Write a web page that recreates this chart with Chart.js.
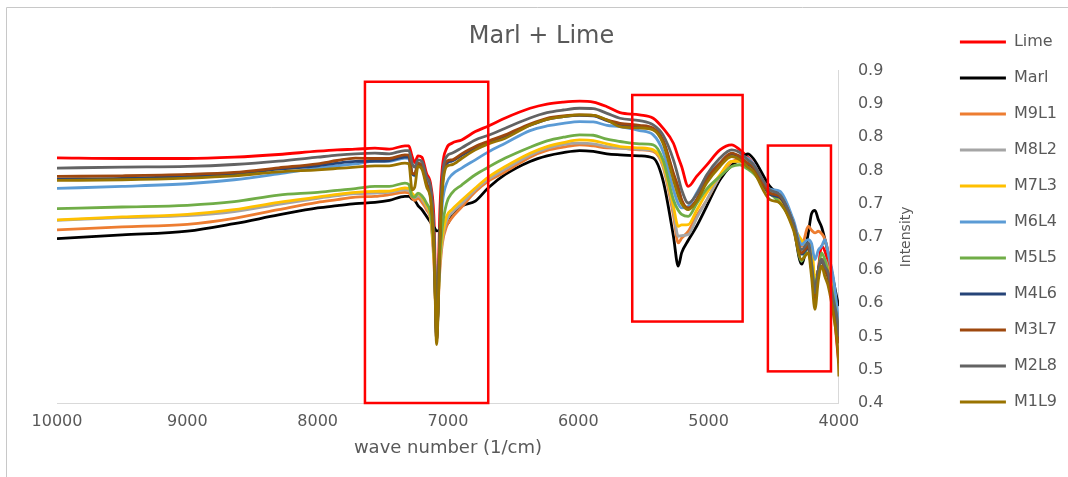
<!DOCTYPE html>
<html>
<head>
<meta charset="utf-8">
<title>Marl + Lime</title>
<script src="https://cdn.jsdelivr.net/npm/chart.js@4/dist/chart.umd.min.js"></script>
<style>
    html, body { margin: 0; padding: 0; background: #ffffff; }
    #wrap { position: relative; width: 1068px; height: 477px; }
</style>
</head>
<body>
<div id="wrap"><canvas id="spectraChart"></canvas></div>
<script>
// wave numbers (1/cm) shared by every series
const wavenumbers = [10000, 9500, 9000, 8640, 8300, 8000, 7850, 7710, 7560, 7450,
    7330, 7300, 7275, 7255, 7230, 7200, 7165, 7130, 7105, 7087,
    7062, 7043, 7010, 6970, 6895, 6790, 6690, 6560, 6370, 6240,
    6115, 5990, 5885, 5780, 5680, 5530, 5425, 5350, 5270, 5233,
    5207, 5156, 5092, 5015, 4913, 4823, 4760, 4700, 4657, 4530,
    4453, 4350, 4286, 4235, 4210, 4184, 4158, 4133, 4107, 4082,
    4044, 4006, 4000];

const lime = [0.769, 0.768, 0.768, 0.770, 0.774, 0.779, 0.781, 0.782, 0.7835, 0.782,
    0.787, 0.787, 0.771, 0.762, 0.772, 0.770, 0.746, 0.726, 0.666, 0.506,
    0.690, 0.755, 0.7835, 0.791, 0.796, 0.8085, 0.817, 0.829, 0.8436, 0.850,
    0.853, 0.8545, 0.853, 0.846, 0.837, 0.8336, 0.8286, 0.8136, 0.791, 0.770,
    0.756, 0.726, 0.741, 0.758, 0.781, 0.7886, 0.781, 0.770, 0.760, 0.7236,
    0.711, 0.671, 0.638, 0.636, 0.610, 0.555, 0.600, 0.636, 0.628, 0.610,
    0.550, 0.470, 0.460];

const marl = [0.6475, 0.653, 0.6586, 0.670, 0.683, 0.6936, 0.697, 0.700, 0.702, 0.705,
    0.711, 0.711, 0.707, 0.705, 0.697, 0.691, 0.681, 0.671, 0.664, 0.659,
    0.661, 0.668, 0.6685, 0.681, 0.696, 0.704, 0.724, 0.744, 0.7636, 0.772,
    0.777, 0.780, 0.7786, 0.775, 0.7735, 0.772, 0.7686, 0.735, 0.651, 0.606,
    0.626, 0.645, 0.666, 0.696, 0.736, 0.758, 0.766, 0.775, 0.768, 0.726,
    0.711, 0.666, 0.609, 0.656, 0.685, 0.690, 0.676, 0.665, 0.646, 0.625,
    0.586, 0.550, 0.546];

const m9l1 = [0.6606, 0.665, 0.669, 0.678, 0.691, 0.702, 0.706, 0.710, 0.711, 0.7135,
    0.717, 0.716, 0.7086, 0.705, 0.708, 0.702, 0.691, 0.671, 0.600, 0.515,
    0.600, 0.640, 0.666, 0.6786, 0.695, 0.718, 0.734, 0.748, 0.770, 0.780,
    0.785, 0.7886, 0.787, 0.784, 0.7836, 0.781, 0.7786, 0.756, 0.683, 0.641,
    0.648, 0.6585, 0.682, 0.705, 0.741, 0.763, 0.766, 0.758, 0.751, 0.721,
    0.706, 0.671, 0.636, 0.666, 0.660, 0.656, 0.6585, 0.655, 0.646, 0.625,
    0.576, 0.521, 0.505];

const m8l2 = [0.675, 0.679, 0.682, 0.688, 0.699, 0.708, 0.712, 0.715, 0.716, 0.717,
    0.721, 0.720, 0.712, 0.709, 0.712, 0.707, 0.695, 0.674, 0.610, 0.512,
    0.610, 0.645, 0.675, 0.686, 0.700, 0.721, 0.737, 0.752, 0.773, 0.783,
    0.789, 0.791, 0.790, 0.786, 0.7836, 0.782, 0.780, 0.758, 0.690, 0.651,
    0.652, 0.6535, 0.678, 0.705, 0.741, 0.7636, 0.7636, 0.760, 0.752, 0.720,
    0.706, 0.666, 0.640, 0.631, 0.610, 0.586, 0.600, 0.615, 0.616, 0.600,
    0.560, 0.510, 0.490];

const m7l3 = [0.6756, 0.680, 0.684, 0.691, 0.702, 0.710, 0.714, 0.717, 0.7186, 0.719,
    0.7236, 0.723, 0.716, 0.712, 0.715, 0.710, 0.698, 0.676, 0.610, 0.510,
    0.615, 0.650, 0.681, 0.691, 0.705, 0.7236, 0.740, 0.756, 0.776, 0.786,
    0.792, 0.796, 0.795, 0.790, 0.786, 0.784, 0.781, 0.761, 0.696, 0.666,
    0.668, 0.6685, 0.690, 0.716, 0.7435, 0.7636, 0.7636, 0.761, 0.752, 0.715,
    0.706, 0.666, 0.645, 0.636, 0.6385, 0.586, 0.600, 0.616, 0.612, 0.600,
    0.561, 0.511, 0.495];

const m6l4 = [0.723, 0.726, 0.730, 0.736, 0.745, 0.7536, 0.757, 0.760, 0.7636, 0.7636,
    0.7686, 0.768, 0.746, 0.742, 0.761, 0.758, 0.736, 0.716, 0.640, 0.500,
    0.640, 0.700, 0.731, 0.7435, 0.7536, 0.766, 0.778, 0.791, 0.810, 0.817,
    0.821, 0.8236, 0.823, 0.818, 0.816, 0.810, 0.8036, 0.7786, 0.721, 0.700,
    0.6936, 0.696, 0.716, 0.741, 0.761, 0.7735, 0.772, 0.7686, 0.760, 0.722,
    0.7186, 0.676, 0.6385, 0.646, 0.640, 0.616, 0.630, 0.636, 0.646, 0.625,
    0.590, 0.526, 0.510];

const m5l5 = [0.6925, 0.695, 0.6976, 0.703, 0.713, 0.717, 0.720, 0.7226, 0.726, 0.726,
    0.731, 0.729, 0.711, 0.710, 0.716, 0.712, 0.701, 0.681, 0.620, 0.510,
    0.620, 0.665, 0.701, 0.716, 0.728, 0.7435, 0.755, 0.7686, 0.785, 0.7946,
    0.800, 0.8036, 0.803, 0.797, 0.7936, 0.790, 0.7886, 0.766, 0.706, 0.690,
    0.684, 0.681, 0.700, 0.722, 0.741, 0.756, 0.7586, 0.752, 0.746, 0.716,
    0.701, 0.666, 0.6135, 0.636, 0.610, 0.576, 0.600, 0.626, 0.615, 0.595,
    0.561, 0.511, 0.495];

const m4l6 = [0.737, 0.738, 0.741, 0.745, 0.752, 0.757, 0.761, 0.7636, 0.764, 0.765,
    0.770, 0.770, 0.745, 0.743, 0.759, 0.756, 0.730, 0.705, 0.630, 0.495,
    0.650, 0.728, 0.760, 0.764, 0.773, 0.784, 0.792, 0.802, 0.818, 0.827,
    0.831, 0.833, 0.832, 0.825, 0.819, 0.816, 0.812, 0.794, 0.743, 0.722,
    0.704, 0.692, 0.705, 0.735, 0.760, 0.775, 0.770, 0.760, 0.754, 0.714,
    0.709, 0.668, 0.624, 0.634, 0.600, 0.560, 0.600, 0.614, 0.600, 0.588,
    0.548, 0.505, 0.490];

const m3l7 = [0.741, 0.742, 0.744, 0.747, 0.754, 0.760, 0.765, 0.7686, 0.768, 0.768,
    0.7735, 0.773, 0.746, 0.745, 0.761, 0.758, 0.731, 0.706, 0.630, 0.495,
    0.650, 0.730, 0.7636, 0.766, 0.775, 0.786, 0.794, 0.8036, 0.820, 0.8286,
    0.832, 0.8336, 0.833, 0.826, 0.821, 0.818, 0.8136, 0.796, 0.746, 0.725,
    0.706, 0.6936, 0.706, 0.737, 0.761, 0.776, 0.771, 0.761, 0.755, 0.716,
    0.711, 0.670, 0.626, 0.636, 0.600, 0.561, 0.600, 0.616, 0.600, 0.590,
    0.550, 0.506, 0.490];

const m2l8 = [0.7536, 0.755, 0.756, 0.759, 0.764, 0.770, 0.773, 0.775, 0.776, 0.775,
    0.780, 0.780, 0.761, 0.755, 0.766, 0.764, 0.741, 0.721, 0.640, 0.500,
    0.660, 0.740, 0.771, 0.776, 0.784, 0.796, 0.803, 0.8136, 0.829, 0.837,
    0.841, 0.8436, 0.843, 0.836, 0.8286, 0.825, 0.8186, 0.8036, 0.766, 0.740,
    0.721, 0.701, 0.714, 0.743, 0.7686, 0.781, 0.777, 0.766, 0.7586, 0.721,
    0.7135, 0.671, 0.631, 0.641, 0.610, 0.566, 0.600, 0.616, 0.605, 0.596,
    0.556, 0.516, 0.500];

const m1l9 = [0.735, 0.736, 0.7386, 0.742, 0.748, 0.751, 0.753, 0.755, 0.757, 0.757,
    0.761, 0.760, 0.721, 0.725, 0.756, 0.752, 0.726, 0.701, 0.620, 0.488,
    0.640, 0.720, 0.756, 0.7586, 0.768, 0.781, 0.790, 0.7986, 0.818, 0.827,
    0.831, 0.8336, 0.833, 0.826, 0.816, 0.814, 0.811, 0.791, 0.736, 0.712,
    0.700, 0.691, 0.7035, 0.731, 0.756, 0.771, 0.766, 0.755, 0.7486, 0.706,
    0.701, 0.661, 0.616, 0.626, 0.590, 0.541, 0.585, 0.606, 0.590, 0.576,
    0.535, 0.470, 0.440];

const seriesNames = ['Lime', 'Marl', 'M9L1', 'M8L2', 'M7L3', 'M6L4', 'M5L5', 'M4L6', 'M3L7', 'M2L8', 'M1L9'];
const seriesValues = [lime, marl, m9l1, m8l2, m7l3, m6l4, m5l5, m4l6, m3l7, m2l8, m1l9];
const seriesColors = ['#ff0000', '#000000', '#ed7d31', '#a5a5a5', '#ffc000', '#5b9bd5',
    '#70ad47', '#264478', '#9e480e', '#636363', '#997300'];

const xTickLabels = ['4000', '5000', '6000', '7000', '8000', '9000', '10000'];
const yTickLabels = ['0.4', '0.5', '0.5', '0.6', '0.6', '0.7', '0.7', '0.8', '0.8', '0.9', '0.9'];

// highlighted regions, in axis units
const boxWaveFrom = [7637, 5586, 4545];
const boxWaveTo = [6691, 4739, 4061];
const boxIntensityTop = [0.8835, 0.8636, 0.7875];
const boxIntensityBottom = [0.400, 0.5226, 0.4476];

seriesValues.forEach((vals, i) => {
    if (vals.length !== wavenumbers.length) {
        throw new Error(seriesNames[i] + ' has ' + vals.length + ' values');
    }
});

const FONT = "'DejaVu Sans', sans-serif";
const TEXT_COLOR = '#595959';

const frame = {
    id: 'frame',
    beforeDraw(chart) {
        const ctx = chart.ctx;
        ctx.save();
        ctx.strokeStyle = '#c8c8c8';
        ctx.lineWidth = 1;
        ctx.beginPath();
        ctx.moveTo(6.5, chart.height);
        ctx.lineTo(6.5, 7.5);
        ctx.lineTo(chart.width, 7.5);
        ctx.stroke();
        ctx.restore();
    }
};

const highlightBoxes = {
    id: 'highlightBoxes',
    afterDatasetsDraw(chart) {
        const { ctx, scales: { x, y } } = chart;
        ctx.save();
        ctx.strokeStyle = '#ff0000';
        ctx.lineWidth = 2.5;
        boxWaveFrom.forEach((from, i) => {
            const left = x.getPixelForValue(from);
            const right = x.getPixelForValue(boxWaveTo[i]);
            const top = y.getPixelForValue(boxIntensityTop[i]);
            const bottom = y.getPixelForValue(boxIntensityBottom[i]);
            ctx.strokeRect(left, top, right - left, bottom - top);
        });
        ctx.restore();
    }
};

const intensityTitle = {
    id: 'intensityTitle',
    afterDraw(chart) {
        const { ctx, chartArea } = chart;
        ctx.save();
        ctx.translate(chartArea.right + 67, (chartArea.top + chartArea.bottom) / 2);
        ctx.rotate(-Math.PI / 2);
        ctx.font = "14px " + FONT;
        ctx.fillStyle = TEXT_COLOR;
        ctx.textAlign = 'center';
        ctx.textBaseline = 'middle';
        ctx.fillText('Intensity', 0, 0);
        ctx.restore();
    }
};

const datasets = seriesNames.map((name, i) => ({
    label: name,
    data: wavenumbers.map((w, j) => ({ x: w, y: seriesValues[i][j] })),
    borderColor: seriesColors[i],
    backgroundColor: seriesColors[i],
    borderWidth: 2.8,
    pointRadius: 0,
    cubicInterpolationMode: 'monotone',
    order: seriesNames.length - i
}));

new Chart(document.getElementById('spectraChart'), {
    type: 'line',
    data: { datasets },
    options: {
        responsive: true,
        maintainAspectRatio: false,
        animation: false,
        layout: { padding: { left: 16, right: 1, top: 14, bottom: 0 } },
        plugins: {
            title: {
                display: true,
                text: 'Marl + Lime',
                color: TEXT_COLOR,
                font: { family: FONT, size: 24, weight: 'normal' },
                padding: { top: 8, bottom: 20 }
            },
            legend: {
                position: 'right',
                align: 'start',
                reverse: true,
                labels: {
                    usePointStyle: true,
                    pointStyle: 'line',
                    pointStyleWidth: 46,
                    padding: 20,
                    color: TEXT_COLOR,
                    font: { family: FONT, size: 16 }
                }
            },
            tooltip: { enabled: false }
        },
        scales: {
            x: {
                type: 'linear',
                reverse: true,
                min: 4000,
                max: 10000,
                grid: { display: false, drawTicks: false },
                border: { display: true, color: '#d9d9d9', width: 1 },
                ticks: {
                    stepSize: 1000,
                    padding: 9,
                    color: TEXT_COLOR,
                    font: { family: FONT, size: 16 },
                    callback: (value) => xTickLabels[Math.round((value - 4000) / 1000)]
                },
                title: {
                    display: true,
                    text: 'wave number (1/cm)',
                    color: TEXT_COLOR,
                    font: { family: FONT, size: 18 },
                    padding: { top: 4, bottom: 18 }
                },
                afterFit(scale) {
                    scale.height = 74;
                    scale.paddingLeft = 57;
                    scale.paddingRight = 0;
                }
            },
            y: {
                position: 'right',
                min: 0.4,
                max: 0.9,
                grid: { display: false, drawTicks: false },
                border: { display: true, color: '#d9d9d9', width: 1 },
                ticks: {
                    stepSize: 0.05,
                    padding: 19,
                    color: TEXT_COLOR,
                    font: { family: FONT, size: 16 },
                    callback: (value) => yTickLabels[Math.round((value - 0.4) / 0.05)]
                },
                afterFit(scale) {
                    scale.width = 101;
                }
            }
        }
    },
    plugins: [frame, highlightBoxes, intensityTitle]
});
</script>
</body>
</html>
